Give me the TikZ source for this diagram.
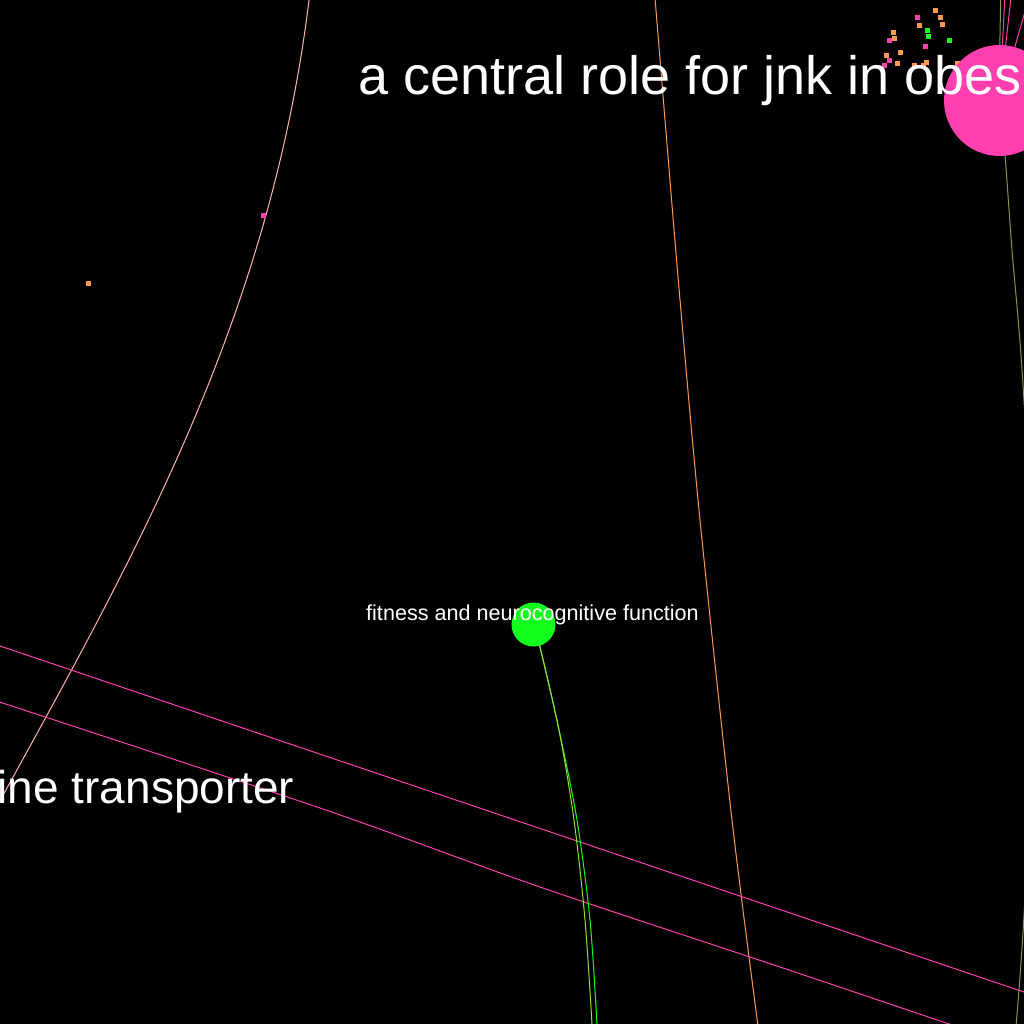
\documentclass[tikz,border=0pt]{standalone}
\usepackage{fontspec}
\setmainfont{Liberation Sans}
\definecolor{hubpink}{RGB}{255,62,176}
\definecolor{dotorange}{RGB}{255,154,80}
\definecolor{nodegreen}{RGB}{18,255,30}
\definecolor{peach}{RGB}{255,180,175}
\definecolor{limegreen}{RGB}{155,224,58}
\definecolor{olive}{RGB}{126,154,78}
\begin{document}
\begin{tikzpicture}[x=1pt, y=-1pt, line join=round, line cap=round,
    edge/.style={line width=1pt},
    sq/.style={rectangle, draw=none, minimum size=5pt, inner sep=0pt},
    hub/.style={circle, draw=none, inner sep=0pt},
    lab/.style={text=white, inner sep=0pt}]
    \fill[black] (0,0) rectangle (1024,1024);
    \useasboundingbox (0,0) rectangle (1024,1024);
    % node centres
    \coordinate (jnkc) at (999.5,100.5);
    \coordinate (fitc) at (533.5,624.5);
    \coordinate (top1) at (1000.7,0);
    \coordinate (top2) at (1004.7,0);
    \coordinate (top3) at (1010.7,0);
    \coordinate (top4) at (1026,8);
    \coordinate (bot1) at (597,1024);
    \coordinate (bot2) at (592,1024);
    % edges
    \draw[edge, peach] (309.3,-2) .. controls (270,320) and (133.5,558) .. (-4,808);
    \draw[edge, dotorange] plot[smooth] coordinates {(655,-2) (665,120) (680,300) (700,520) (732,820) (758,1026)};
    \draw[edge, hubpink] (-2,645.3) -- (1026,992.7);
    \draw[edge, hubpink] plot[smooth] coordinates {(-2,701.5) (320,808) (540,887) (780,967) (955,1026)};
    \draw[edge, nodegreen] plot[smooth] coordinates {(fitc) (540,647) (559,730) (577,820) (590,920) (bot1)};
    \draw[edge, limegreen] plot[smooth] coordinates {(fitc) (540,647) (559,730) (574,820) (585,920) (bot2)};
    \draw[edge, olive] plot[smooth] coordinates {(top1) (jnkc) (1005,155) (1012,250) (1023,385) (1036,650) (1024,915) (1016,1026)};
    \draw[edge, hubpink] (jnkc) -- (top2);
    \draw[edge, hubpink] (jnkc) -- (top3);
    \draw[edge, hubpink] (jnkc) -- (top4);
    % small nodes
    \foreach \px/\py/\c [count=\i] in {917/18/hubpink, 935/11/dotorange, 940/18/dotorange,
        919/26/dotorange, 942/25/dotorange, 927/31/nodegreen, 928/37/nodegreen, 949/41/nodegreen,
        893/33/dotorange, 894/39/dotorange, 889/41/hubpink, 925/47/hubpink, 900/53/dotorange,
        886/56/dotorange, 889/61/hubpink, 897/64/dotorange, 884/66/hubpink, 914/66/dotorange,
        923/66/dotorange, 926/63/dotorange, 957/64/dotorange, 929/77/hubpink,
        263/216/hubpink, 88/283/dotorange}
        \node[sq, fill=\c] (s\i) at (\px,\py) {};
    % big nodes
    \node[hub, fill=hubpink, minimum size=111pt] (jnk) at (jnkc) {};
    \node[hub, fill=nodegreen, minimum size=44pt] (fit) at (fitc) {};
    % labels
    \node[lab, anchor=base west, font=\fontsize{54}{60}\selectfont] (jnklab) at (358,95) {a central role for jnk in obes};
    \node[lab, anchor=base east, font=\fontsize{46}{52}\selectfont] (translab) at (294.5,803) {ine transporter};
    \node[lab, anchor=base, font=\fontsize{21.6}{24}\selectfont] (fitlab) at (532.5,620) {fitness and neurocognitive function};
\end{tikzpicture}
\end{document}
